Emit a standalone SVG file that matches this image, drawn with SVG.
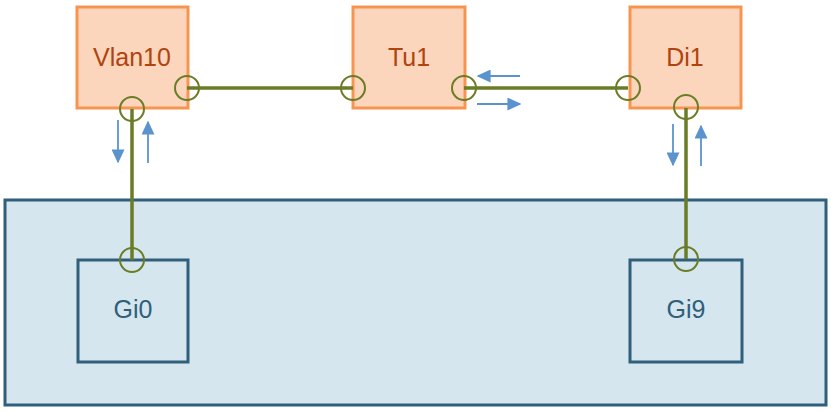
<svg xmlns="http://www.w3.org/2000/svg" width="831" height="411" viewBox="0 0 831 411">
<style>
.dev{fill:#FCD5BD;stroke:#F79550;stroke-width:3}
.dl{font-family:"Liberation Sans",Arial,sans-serif;font-size:25px;fill:#B0440E;text-anchor:middle}
.port{fill:#D6E6EF;stroke:#2F5F7A;stroke-width:3}
.pl{font-family:"Liberation Sans",Arial,sans-serif;font-size:25px;fill:#2F5F7A;text-anchor:middle}
.link{stroke:#6A7D26;stroke-width:3.5;fill:none}
.ring{fill:none;stroke:#6A7D26;stroke-width:2}
.flow{stroke:#5B93CF;stroke-width:1.8;fill:none;marker-end:url(#ah)}
</style>
<defs>
<marker id="ah" viewBox="0 0 10 10" refX="9" refY="5" markerWidth="14" markerHeight="13" markerUnits="userSpaceOnUse" orient="auto" preserveAspectRatio="none">
<path d="M0,0 L10,5 L0,10 z" fill="#5B93CF"/>
</marker>
</defs>
<g id="switch"><rect x="5" y="200" width="821" height="205" fill="#D6E6EF" stroke="#2F5F7A" stroke-width="3"/></g>
<g id="Gi0"><rect class="port" x="78" y="260" width="110" height="102"/><text class="pl" x="133" y="318">Gi0</text></g>
<g id="Gi9"><rect class="port" x="630" y="260" width="112" height="102"/><text class="pl" x="686" y="318">Gi9</text></g>
<g id="Vlan10"><rect class="dev" x="77" y="7" width="111" height="101"/><text class="dl" x="132" y="66">Vlan10</text></g>
<g id="Tu1"><rect class="dev" x="353" y="7" width="112" height="101"/><text class="dl" x="409" y="66">Tu1</text></g>
<g id="Di1"><rect class="dev" x="630" y="7" width="111" height="101"/><text class="dl" x="685" y="66">Di1</text></g>
<g id="connectors">
<line class="link" x1="187" y1="88" x2="353" y2="88"/>
<line class="link" x1="464" y1="88" x2="628" y2="88"/>
<line class="link" x1="132" y1="109" x2="132" y2="260"/>
<line class="link" x1="686" y1="108" x2="686" y2="259"/>
<circle class="ring" cx="187" cy="88" r="12"/>
<circle class="ring" cx="132" cy="109" r="12"/>
<circle class="ring" cx="353" cy="88" r="12"/>
<circle class="ring" cx="464" cy="88" r="12"/>
<circle class="ring" cx="628" cy="88" r="12"/>
<circle class="ring" cx="686" cy="107" r="12"/>
<circle class="ring" cx="132" cy="260" r="12"/>
<circle class="ring" cx="686" cy="259" r="12"/>
<line class="flow" x1="118" y1="120" x2="118" y2="162"/>
<line class="flow" x1="148" y1="163" x2="148" y2="122"/>
<line class="flow" x1="673" y1="124" x2="673" y2="165"/>
<line class="flow" x1="701" y1="166" x2="701" y2="126"/>
<line class="flow" x1="520" y1="76" x2="478" y2="76"/>
<line class="flow" x1="477" y1="104" x2="520" y2="104"/>
</g>
</svg>
